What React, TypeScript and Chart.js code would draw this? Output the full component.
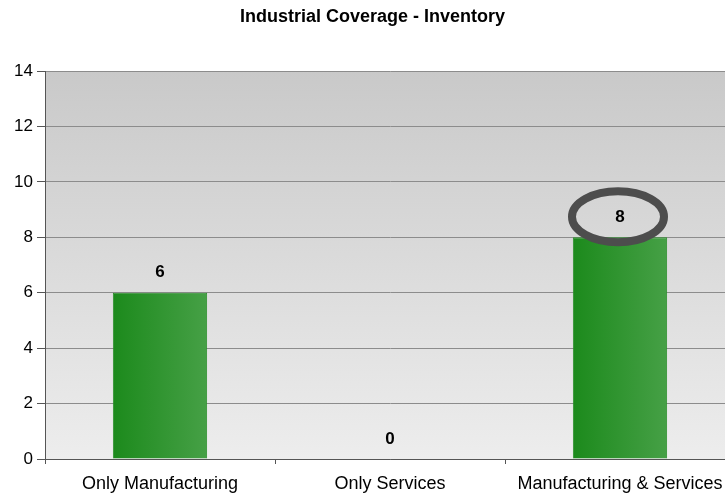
import React, { useEffect, useRef } from "react";
import { Chart, registerables } from "chart.js";

Chart.register(...registerables);

const categories = ["Only Manufacturing", "Only Services", "Manufacturing & Services"];
const values = [6, 0, 8];
const yTicks = [0, 2, 4, 6, 8, 10, 12, 14];
const title = "Industrial Coverage - Inventory";
const highlightIndex = 2;

const FONT = "'Liberation Sans', Arial, Helvetica, sans-serif";
const BAR_PCT = 0.41;

export default function App() {
  const ref = useRef<HTMLCanvasElement | null>(null);

  useEffect(() => {
    document.body.style.margin = "0";
    document.body.style.overflow = "hidden";
    const canvas = ref.current!;
    const bgPlugin = {
      id: "bgPlugin",
      beforeDraw(chart: any) {
        const { ctx, chartArea } = chart;
        const g = ctx.createLinearGradient(0, chartArea.top, 0, chartArea.bottom);
        g.addColorStop(0, "#c9c9c9");
        g.addColorStop(1, "#ededed");
        ctx.save();
        ctx.fillStyle = g;
        ctx.fillRect(chartArea.left, chartArea.top, chartArea.right - chartArea.left, chartArea.bottom - chartArea.top);
        ctx.restore();
      },
      afterDraw(chart: any) {
        const { ctx } = chart;
        ctx.save();
        ctx.fillStyle = "#000";
        ctx.font = `bold 18px ${FONT}`;
        ctx.textAlign = "center";
        ctx.textBaseline = "middle";
        ctx.fillText(title, chart.width / 2, 17);
        ctx.restore();
      },
    };
    const labelPlugin = {
      id: "labelPlugin",
      afterDatasetsDraw(chart: any) {
        const { ctx } = chart;
        const meta = chart.getDatasetMeta(0);
        ctx.save();
        meta.data.forEach((bar: any, i: number) => {
          ctx.fillStyle = "#000";
          ctx.font = `bold 17px ${FONT}`;
          ctx.textAlign = "center";
          ctx.textBaseline = "middle";
          ctx.fillText(String(values[i]), bar.x, bar.y - 20);
          if (i === highlightIndex) {
            ctx.beginPath();
            ctx.ellipse(bar.x - 2, bar.y - 20.5, 46, 25.5, 0, 0, Math.PI * 2);
            ctx.lineWidth = 8;
            ctx.strokeStyle = "#4d4d4d";
            ctx.stroke();
          }
        });
        ctx.restore();
      },
    };

    const barFill = (context: any) => {
      const chart = context.chart;
      const xs = chart.scales?.x;
      if (!xs || !chart.chartArea) return "#2f962f";
      const cx = xs.getPixelForValue(context.dataIndex);
      const w = ((chart.chartArea.right - chart.chartArea.left) / categories.length) * BAR_PCT;
      const g = chart.ctx.createLinearGradient(cx - w / 2, 0, cx + w / 2, 0);
      g.addColorStop(0, "#1c8a1c");
      g.addColorStop(1, "#46a046");
      return g;
    };

    const chart = new Chart(canvas, {
      type: "bar",
      data: {
        labels: categories,
        datasets: [
          {
            data: values,
            backgroundColor: barFill,
            borderColor: "#2a8f2a",
            borderWidth: 1,
            barPercentage: BAR_PCT,
            categoryPercentage: 1,
          },
        ],
      },
      options: {
        animation: false,
        responsive: false,
        maintainAspectRatio: false,
        layout: { padding: { top: 71, right: 10, left: 0, bottom: 0 } },
        plugins: { legend: { display: false }, title: { display: false }, tooltip: { enabled: false } },
        scales: {
          x: {
            offset: true,
            grid: { display: true, drawOnChartArea: false, offset: true, tickLength: 5, color: "#555" },
            border: { color: "#555", width: 1 },
            ticks: { color: "#000", font: { family: FONT, size: 18 }, padding: 9, maxRotation: 0, autoSkip: false },
            afterFit: (s: any) => { s.height = 36; },
          },
          y: {
            min: 0,
            max: 14,
            afterBuildTicks: (s: any) => { s.ticks = yTicks.map((v) => ({ value: v })); },
            grid: { color: "#8c8c8c", tickLength: 8, tickColor: "#555" },
            border: { color: "#555", width: 1 },
            ticks: { color: "#000", font: { family: FONT, size: 17 }, padding: 4 },
            afterFit: (s: any) => { s.width = 45; },
          },
        },
      },
      plugins: [bgPlugin, labelPlugin],
    });
    return () => chart.destroy();
  }, []);

  return (
    <div style={{ position: "absolute", left: 0, top: 0, width: 745, height: 495 }}>
      <canvas ref={ref} width={745} height={495} style={{ width: 745, height: 495, display: "block" }} />
    </div>
  );
}
